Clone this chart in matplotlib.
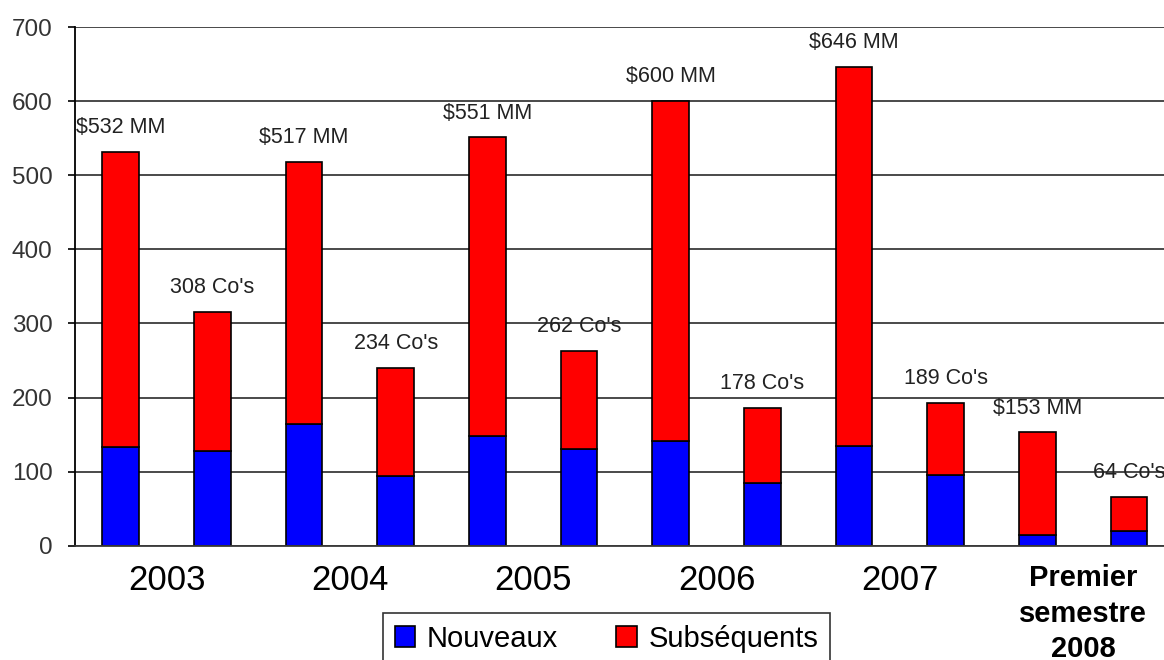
import numpy as np
import matplotlib
matplotlib.use("Agg")
import matplotlib.pyplot as plt

plt.rcParams['font.family'] = ['Liberation Sans', 'DejaVu Sans']

# values (two bars per year: $ amount, number of companies)
nouveaux = [133, 128, 165, 94, 148, 131, 142, 85, 135, 96, 15, 20]
subsequents = [399, 188, 353, 146, 403, 132, 458, 101, 511, 97, 138, 46]
bar_labels = ["$532 MM", "308 Co's", "$517 MM", "234 Co's", "$551 MM", "262 Co's",
              "$600 MM", "178 Co's", "$646 MM", "189 Co's", "$153 MM", "64 Co's"]
years = ['2003', '2004', '2005', '2006', '2007', 'Premier\nsemestre\n2008']
yticks = [0, 100, 200, 300, 400, 500, 600, 700]

fig = plt.figure(figsize=(11.64, 6.6), dpi=100)
ax = fig.add_axes([0.0644, 0.173, 0.945, 0.786])

x = np.arange(len(nouveaux))
nouveaux = np.array(nouveaux)
subsequents = np.array(subsequents)
total = nouveaux + subsequents

ax.set_axisbelow(True)
ax.grid(axis='y', color='#3a3a3a', linewidth=1.3)

b1 = ax.bar(x, nouveaux, width=0.4, color='#0000ff', edgecolor='black', linewidth=1.2,
            label='Nouveaux')
b2 = ax.bar(x, subsequents, bottom=nouveaux, width=0.4, color='#ff0000',
            edgecolor='black', linewidth=1.2, label='Subséquents')

for xi, t, lab in zip(x, total, bar_labels):
    ax.annotate(lab, (xi, t), xytext=(0, 10), textcoords='offset points',
                ha='center', va='bottom', fontsize=15.5, color='#222222')

ax.set_xlim(-0.5, 11.5)
ax.set_ylim(0, 700)
ax.set_yticks(yticks)
ax.tick_params(axis='y', labelsize=17.5, length=5, width=1.2, pad=11,
               direction='out', labelcolor='#333333')
ax.set_xticks(np.arange(0.5, 12, 2))
ax.set_xticklabels(years, fontsize=25, va='top')
ax.tick_params(axis='x', length=0, pad=13)
last = ax.get_xticklabels()[-1]
last.set_fontsize(21)
last.set_fontweight('bold')
last.set_linespacing(1.35)

for s in ['top', 'right']:
    ax.spines[s].set_visible(False)
ax.spines['left'].set_linewidth(1.3)
ax.spines['bottom'].set_linewidth(1.3)
ax.spines['bottom'].set_color('#3a3a3a')

leg = fig.legend(handles=[b1, b2], loc='upper center', bbox_to_anchor=(0.521, 0.071),
                 ncol=2, fontsize=21, frameon=True, fancybox=False, edgecolor='black',
                 handlelength=0.7, handleheight=0.7, handletextpad=0.4,
                 columnspacing=2.0, borderpad=0.4, borderaxespad=0)
leg.get_frame().set_linewidth(1.2)

fig.savefig('out.png', dpi=100)
